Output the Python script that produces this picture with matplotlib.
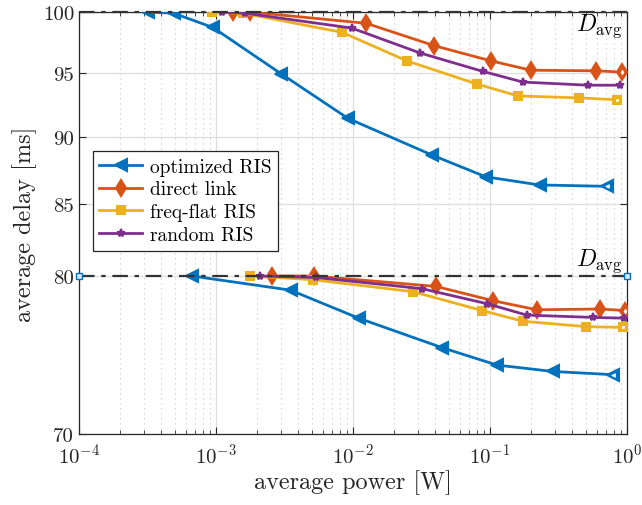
import matplotlib.pyplot as plt
import matplotlib.ticker as mticker
import numpy as np

plt.rcParams['font.family'] = 'cmr10'
plt.rcParams['mathtext.fontset'] = 'cm'
plt.rcParams['axes.formatter.use_mathtext'] = True

# --- data ---
# upper group (D_avg = 100 ms)
opt_hi_x = [3.2e-4, 4.9e-4, 9.5e-4, 3.0e-3, 9.2e-3, 0.038, 0.093, 0.23, 0.71]
opt_hi_y = [100, 99.9, 98.7, 94.9, 91.4, 88.6, 87.0, 86.4, 86.3]
dir_hi_x = [1.33e-3, 1.77e-3, 0.0125, 0.039, 0.102, 0.199, 0.594, 0.92]
dir_hi_y = [100, 100, 99.05, 97.2, 95.95, 95.2, 95.15, 95.05]
flat_hi_x = [9.35e-4, 1.57e-3, 8.3e-3, 0.0248, 0.080, 0.160, 0.447, 0.845]
flat_hi_y = [100, 99.9, 98.3, 95.95, 94.1, 93.15, 93.0, 92.85]
rnd_hi_x = [1.1e-3, 1.63e-3, 9.8e-3, 0.0308, 0.089, 0.174, 0.52, 0.89]
rnd_hi_y = [100, 99.9, 98.65, 96.6, 95.1, 94.25, 94.0, 94.0]

# lower group (D_avg = 80 ms)
opt_lo_x = [6.7e-4, 3.5e-3, 0.011, 0.0447, 0.1125, 0.288, 0.79]
opt_lo_y = [80, 79.05, 77.2, 75.3, 74.2, 73.8, 73.6]
dir_lo_x = [2.56e-3, 5.2e-3, 0.0404, 0.105, 0.22, 0.635, 0.966]
dir_lo_y = [80, 80, 79.3, 78.35, 77.75, 77.8, 77.7]
flat_lo_x = [1.77e-3, 5.1e-3, 0.0274, 0.0875, 0.174, 0.502, 0.935]
flat_lo_y = [80, 79.75, 78.95, 77.7, 77.0, 76.65, 76.6]
rnd_lo_x = [2.09e-3, 5.37e-3, 0.0319, 0.0951, 0.186, 0.565, 0.951]
rnd_lo_y = [80, 79.9, 79.15, 78.15, 77.4, 77.25, 77.2]

d_avg = [100, 80]
x_range = [1e-4, 1]
y_ticks = [70, 80, 85, 90, 95, 100]
labels = ['optimized RIS', 'direct link', 'freq-flat RIS', 'random RIS']

blue = '#0072BD'
orange = '#D95319'
yellow = '#EDB120'
purple = '#7E2F8E'

fig = plt.figure(figsize=(6.42, 5.06), dpi=100)
ax = fig.add_axes([0.123, 0.1403, 0.8536, 0.834])

styles = [
    (blue, '<', 9),
    (orange, 'd', 8),
    (yellow, 's', 6),
    (purple, '*', 6),
]
groups = [
    [(opt_hi_x, opt_hi_y), (dir_hi_x, dir_hi_y), (flat_hi_x, flat_hi_y), (rnd_hi_x, rnd_hi_y)],
    [(opt_lo_x, opt_lo_y), (dir_lo_x, dir_lo_y), (flat_lo_x, flat_lo_y), (rnd_lo_x, rnd_lo_y)],
]

for g, grp in enumerate(groups):
    for (xs, ys), (c, m, ms), lab in zip(grp, styles, labels):
        ax.plot(xs, ys, color=c, marker=m, ms=ms, lw=2, mew=1.5,
                label=lab if g == 0 else None, zorder=3)
        # last marker looks hollow in the original
        if m != '*':
            ax.plot(xs[-1], ys[-1], marker=m, ms=ms * 0.3, color='white',
                    mec='white', mew=0.5, ls='none', zorder=4)

# D_avg reference lines
for d in d_avg:
    ax.plot(x_range, [d, d], color='#333333', lw=1.6, zorder=5,
            dashes=(7, 3, 2, 3), clip_on=False)
ax.plot(x_range, [80, 80], ls='none', marker='s', ms=4, mfc='#d8e6f2',
        mec=blue, mew=1, zorder=6, clip_on=False)

ax.text(0.93, 98.5, r'$D_{\mathrm{avg}}$', fontsize=17, ha='right')
ax.text(0.93, 80.75, r'$D_{\mathrm{avg}}$', fontsize=17, ha='right')

ax.set_xscale('log')
ax.set_yscale('log')
ax.set_xlim(x_range)
ax.set_ylim(70, 100)
ax.set_yticks(y_ticks)
ax.yaxis.set_major_formatter(mticker.FixedFormatter([str(t) for t in y_ticks]))
ax.yaxis.set_minor_locator(mticker.NullLocator())
ax.xaxis.set_major_locator(mticker.LogLocator(base=10, numticks=10))
ax.xaxis.set_minor_locator(mticker.LogLocator(base=10, subs=np.arange(2, 10), numticks=20))

ax.grid(True, which='major', color='#dedede', lw=0.9, zorder=0)
ax.grid(True, which='minor', axis='x', color='#c4c4c4', ls=(0, (1, 3.5)), lw=0.8, zorder=0)
ax.set_axisbelow(True)

ax.tick_params(which='both', direction='in', top=True, right=True,
               labelsize=15, colors='#262626')
ax.tick_params(which='major', length=5)
ax.tick_params(which='minor', length=3)
ax.tick_params(axis='x', pad=6)
for sp in ax.spines.values():
    sp.set_color('#262626')
    sp.set_linewidth(0.9)

ax.set_xlabel('average power [W]', fontsize=17.5, color='#262626', labelpad=2)
ax.set_ylabel('average delay [ms]', fontsize=17.5, color='#262626', labelpad=4)

leg = ax.legend(loc='upper left', bbox_to_anchor=(0.025, 0.671), fontsize=14,
                fancybox=False, edgecolor='#262626', framealpha=1,
                borderpad=0.35, labelspacing=0.25, handlelength=2.2,
                handletextpad=0.4, borderaxespad=0)
leg.get_frame().set_linewidth(0.9)

fig.savefig('out.png', dpi=100)
